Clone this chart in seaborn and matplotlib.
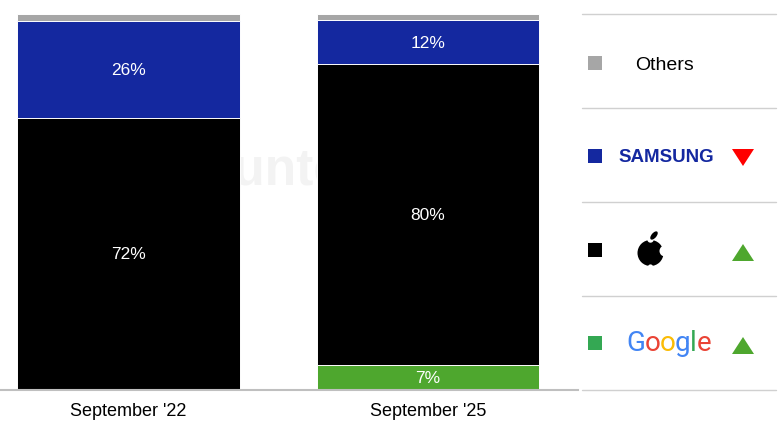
import numpy as np
import pandas as pd
import matplotlib
matplotlib.use('Agg')
import matplotlib.pyplot as plt
import seaborn as sns
from matplotlib.patches import Ellipse, Circle

# data (share of shipments, %), stacked bottom -> top
periods = ["September '22", "September '25"]
brands = ['Google', 'Apple', 'Samsung', 'Others']
google = [0.0, 6.7]
apple = [72.4, 80.0]
samsung = [25.8, 11.7]
others = [1.8, 1.6]
bar_colors = {'Google': '#4ea72e', 'Apple': '#000000', 'Samsung': '#14289f', 'Others': '#a6a6a6'}

# legend rows, top -> bottom
legend_rows = ['Others', 'Samsung', 'Apple', 'Google']
legend_colors = ['#a6a6a6', '#14289f', '#000000', '#34a853']
trend = [None, 'down', 'up', 'up']

df = pd.DataFrame({'period': periods, 'Google': google, 'Apple': apple,
                   'Samsung': samsung, 'Others': others})
cum = df[brands].cumsum(axis=1)

sns.set_theme(style='white')
plt.rcParams['font.family'] = ['Liberation Sans', 'DejaVu Sans']

fig = plt.figure(figsize=(7.83, 4.31), dpi=100)
ax = fig.add_axes([0, 40 / 431, 578 / 783, 376 / 431])

# faint watermark behind the bars
ax.text(0.665, 54.7, 'Counterpoint', fontsize=37, fontweight='bold', color='#f3f3f3',
        ha='center', va='baseline', zorder=0)

# stacked bars: draw cumulative totals from the top segment down
for b in reversed(brands):
    sns.barplot(x=df['period'], y=cum[b], color=bar_colors[b], width=0.743,
                saturation=1, edgecolor='white', linewidth=0.7, ax=ax, zorder=1)

for i in range(len(periods)):
    for b in brands:
        v = df.loc[i, b]
        if v >= 5:
            ax.text(i, cum.loc[i, b] - v / 2, f'{v:.0f}%', color='white', fontsize=12.5,
                    ha='center', va='center', zorder=3)

ax.set_xlim(-0.428, 1.5)
ax.set_ylim(0, 100)
ax.set_xlabel('')
ax.set_ylabel('')
ax.set_yticks([])
for s in ['left', 'top', 'right']:
    ax.spines[s].set_visible(False)
ax.spines['bottom'].set_color('#bfbfbf')
ax.spines['bottom'].set_linewidth(1.5)
ax.tick_params(axis='x', length=0, pad=9, labelsize=13, labelcolor='black')

# legend panel in pixel coordinates
lax = fig.add_axes([578 / 783, 0, 205 / 783, 1])
lax.set_xlim(578, 783)
lax.set_ylim(431, 0)
lax.axis('off')

row_y = [64, 157, 251, 344]
for y in [15, 109, 203, 297, 391]:
    lax.plot([582, 776], [y, y], color='#d0d0d0', lw=1)

for y, c in zip(row_y, legend_colors):
    lax.scatter([595], [y], marker='s', s=100, color=c, linewidths=0)

for y, t in zip(row_y, trend):
    if t == 'down':
        lax.fill([732, 754, 743], [y - 7, y - 7, y + 10], color='#ff0000', lw=0)
    elif t == 'up':
        lax.fill([732, 754, 743], [y + 11, y + 11, y - 6], color='#4ea72e', lw=0)

lax.text(665, row_y[0] + 1, 'Others', fontsize=14, ha='center', va='center', color='black')
lax.text(666, row_y[1] + 1, 'SAMSUNG', fontsize=13.5, fontweight='bold', ha='center',
         va='center', color='#1428a0')

# apple logo (drawn shape)
ay = row_y[2]
lax.add_patch(Ellipse((650.5, ay + 3), 26, 26, color='black', lw=0))
lax.add_patch(Circle((665, ay + 1), 5.5, color='white', lw=0))
lax.add_patch(Circle((650.5, ay - 10.5), 3.2, color='white', lw=0))
lax.add_patch(Circle((650.5, ay + 17), 2.6, color='white', lw=0))
lax.add_patch(Ellipse((654, ay - 14.5), 5, 10, angle=40, color='black', lw=0))

# google wordmark, one coloured letter at a time
fig.canvas.draw()
rend = fig.canvas.get_renderer()
g_letters = list('Google')
g_colors = ['#4285f4', '#ea4335', '#fbbc05', '#4285f4', '#34a853', '#ea4335']
x_px = lax.transData.transform((626, 0))[0]
for ch, c in zip(g_letters, g_colors):
    xd = lax.transData.inverted().transform((x_px, 0))[0]
    t = lax.text(xd, row_y[3] + 7, ch, fontsize=20, family='Roboto',
                 color=c, ha='left', va='baseline')
    x_px = t.get_window_extent(rend).x1 - 0.5

fig.savefig('out.png', dpi=100)
